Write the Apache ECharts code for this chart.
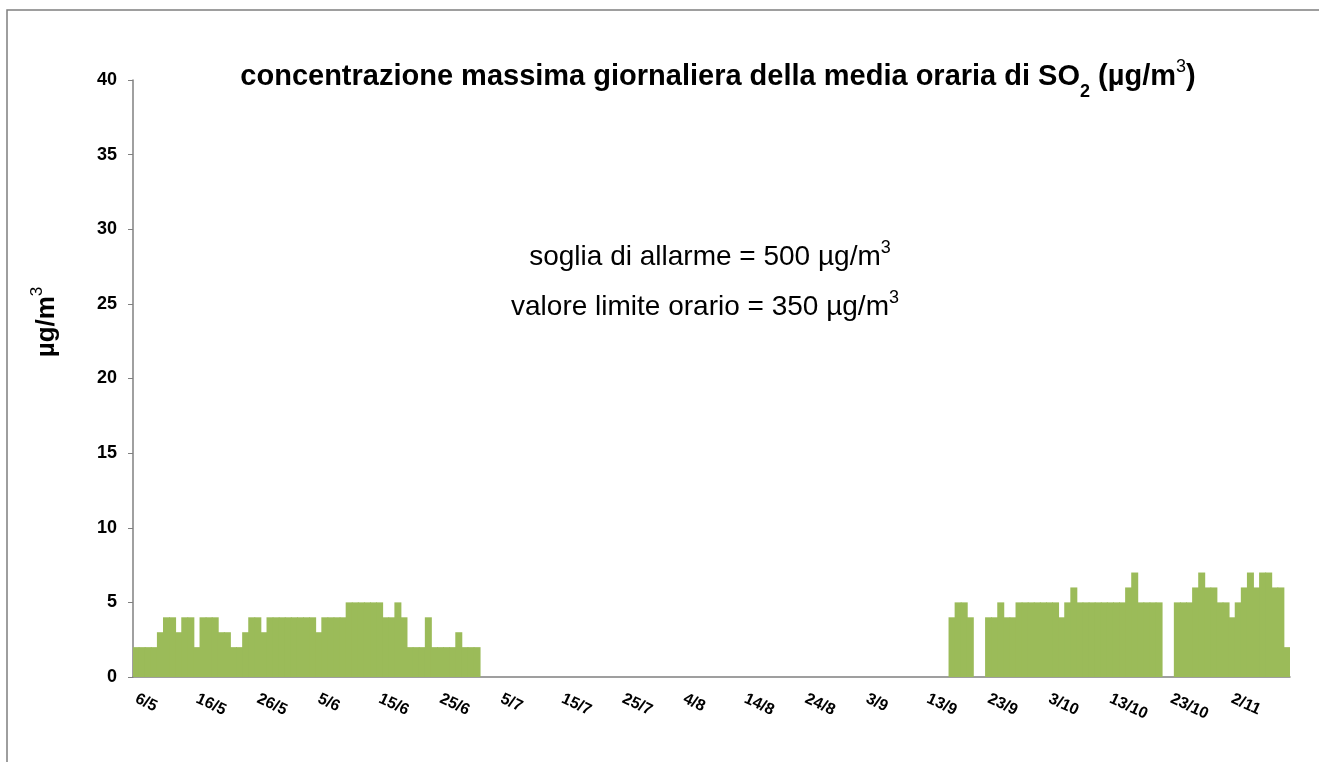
<!DOCTYPE html>
<html>
<head>
<meta charset="utf-8">
<script src="https://cdn.jsdelivr.net/npm/echarts@6/dist/echarts.min.js"></script>
<style>
  html, body { margin: 0; padding: 0; background: #fff; }
  #chart { width: 1319px; height: 762px; }
</style>
</head>
<body>
<div id="chart"></div>
<script>
// giorni dal 6/5 all'11/11 (190 giorni)
const startDay = 6
const startMonth = 5
const monthLengths = { 5: 31, 6: 30, 7: 31, 8: 31, 9: 30, 10: 31, 11: 30 }
const dayCount = 190

// massimo giornaliero della media oraria di SO2 (µg/m3), una riga ogni 10 giorni
const so2Max = [
  2, 2, 2, 2, 3, 4, 4, 3, 4, 4,
  2, 4, 4, 4, 3, 3, 2, 2, 3, 4,
  4, 3, 4, 4, 4, 4, 4, 4, 4, 4,
  3, 4, 4, 4, 4, 5, 5, 5, 5, 5,
  5, 4, 4, 5, 4, 2, 2, 2, 4, 2,
  2, 2, 2, 3, 2, 2, 2, null, null, null,
  null, null, null, null, null, null, null, null, null, null,
  null, null, null, null, null, null, null, null, null, null,
  null, null, null, null, null, null, null, null, null, null,
  null, null, null, null, null, null, null, null, null, null,
  null, null, null, null, null, null, null, null, null, null,
  null, null, null, null, null, null, null, null, null, null,
  null, null, null, null, null, null, null, null, null, null,
  null, null, null, null, 4, 5, 5, 4, null, null,
  4, 4, 5, 4, 4, 5, 5, 5, 5, 5,
  5, 5, 4, 5, 6, 5, 5, 5, 5, 5,
  5, 5, 5, 6, 7, 5, 5, 5, 5, null,
  null, 5, 5, 5, 6, 7, 6, 6, 5, 5,
  4, 5, 6, 7, 6, 7, 7, 6, 6, 2,
]

const annotations = [
  'soglia di allarme = 500 µg/m{sup|3}',
  'valore limite orario = 350 µg/m{sup|3}',
]

let days = []
let d = startDay
let m = startMonth
for (let i = 0; i < dayCount; i++) {
  days.push(d + '/' + m)
  d++
  if (d > monthLengths[m]) {
    d = 1
    m++
  }
}

const font = '"Liberation Sans", Arial, sans-serif'
const barColor = '#9BBB59'

let myChart = echarts.init(document.getElementById('chart'))

let option = {
  animation: false,
  backgroundColor: '#fff',
  title: {
    text: 'concentrazione massima giornaliera della media oraria di SO{sub|2} (µg/m{sup|3})',
    left: 713,
    top: 57,
    textAlign: 'center',
    textStyle: {
      fontFamily: font,
      fontSize: 29,
      fontWeight: 'bold',
      color: '#000',
      rich: {
        sub: { fontFamily: font, fontSize: 18, fontWeight: 'bold', color: '#000', verticalAlign: 'bottom', padding: [0, 0, -10, 0] },
        sup: { fontFamily: font, fontSize: 18, fontWeight: 'normal', color: '#000', verticalAlign: 'top', padding: [-4, 0, 0, 0] },
      },
    },
  },
  grid: { left: 133, right: 29, top: 80, bottom: 85 },
  xAxis: {
    type: 'category',
    data: days,
    boundaryGap: true,
    axisLine: { lineStyle: { color: '#808080', width: 1.5 } },
    axisTick: { interval: 9, length: 5, lineStyle: { color: '#808080' } },
    axisLabel: {
      interval: 9,
      rotate: -25,
      margin: 21,
      fontFamily: font,
      fontSize: 16,
      fontWeight: 'bold',
      color: '#000',
    },
  },
  yAxis: {
    type: 'value',
    min: 0,
    max: 40,
    interval: 5,
    splitLine: { show: false },
    axisLine: { show: true, lineStyle: { color: '#808080', width: 1.5 } },
    axisTick: { show: true, length: 5, lineStyle: { color: '#808080' } },
    axisLabel: {
      margin: 16,
      fontFamily: font,
      fontSize: 18,
      fontWeight: 'bold',
      color: '#000',
    },
  },
  series: [
    {
      type: 'bar',
      data: so2Max,
      barWidth: 7,
      barGap: '-100%',
      itemStyle: { color: barColor },
    },
  ],
  graphic: [
    {
      type: 'rect',
      shape: { x: 7, y: 10, width: 1400, height: 900 },
      style: { fill: 'none', stroke: '#7f7f7f', lineWidth: 1.5 },
      silent: true,
    },
    {
      type: 'text',
      x: 47,
      y: 322,
      rotation: Math.PI / 2,
      style: {
        text: 'µg/m{sup|3}',
        fontFamily: font,
        fontSize: 26,
        fontWeight: 'bold',
        fill: '#000',
        align: 'center',
        verticalAlign: 'middle',
        rich: {
          sup: { fontFamily: font, fontSize: 17, fontWeight: 'normal', fill: '#000', verticalAlign: 'top', padding: [-5, 0, 0, 0] },
        },
      },
    },
    {
      type: 'text',
      x: 710,
      y: 257,
      style: {
        text: annotations[0],
        fontFamily: font,
        fontSize: 28,
        fill: '#000',
        align: 'center',
        verticalAlign: 'middle',
        rich: {
          sup: { fontFamily: font, fontSize: 18, fill: '#000', verticalAlign: 'top', padding: [-4, 0, 0, 0] },
        },
      },
    },
    {
      type: 'text',
      x: 705,
      y: 307,
      style: {
        text: annotations[1],
        fontFamily: font,
        fontSize: 28,
        fill: '#000',
        align: 'center',
        verticalAlign: 'middle',
        rich: {
          sup: { fontFamily: font, fontSize: 18, fill: '#000', verticalAlign: 'top', padding: [-4, 0, 0, 0] },
        },
      },
    },
  ],
}

myChart.setOption(option)
</script>
</body>
</html>
